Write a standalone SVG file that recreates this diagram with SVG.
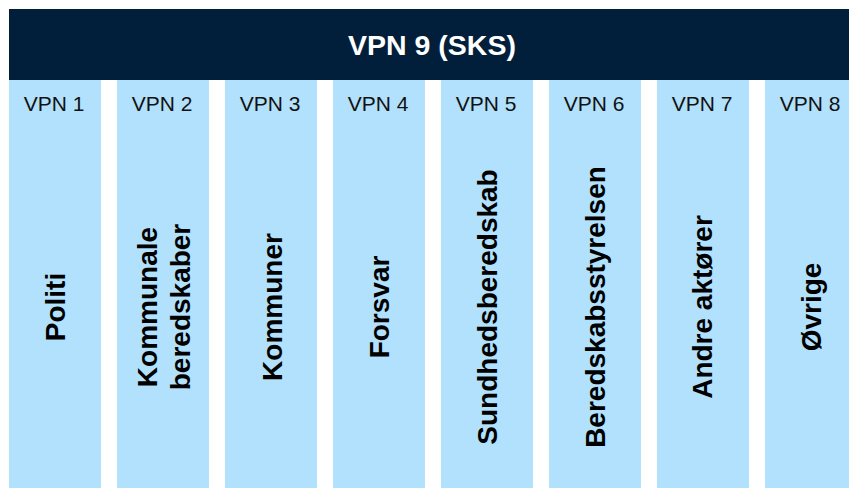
<svg xmlns="http://www.w3.org/2000/svg" width="849" height="488" viewBox="0 0 849 488">
<style>
.col{fill:#B1E1FD}
.hdr{fill:#011E3B}
.ht{font-family:"Liberation Sans",Arial,sans-serif;font-weight:bold;font-size:28.5px;fill:#FFFFFF;text-anchor:middle}
.vl{font-family:"Liberation Sans",Arial,sans-serif;font-size:21px;fill:#111111;text-anchor:middle}
.nl{font-family:"Liberation Sans",Arial,sans-serif;font-weight:bold;font-size:28px;fill:#000000;text-anchor:middle}
</style>
<rect width="849" height="488" fill="#FFFFFF"/>
<g id="vpn9">
<rect class="hdr" x="9" y="9" width="840" height="71"/>
<text class="ht" x="432" y="55">VPN 9 (SKS)</text>
</g>
<g id="vpn1">
<rect class="col" x="9" y="80" width="92" height="408"/>
<text class="vl" x="54" y="111">VPN 1</text>
<text class="nl" transform="translate(65,307) rotate(-90)">Politi</text>
</g>
<g id="vpn2">
<rect class="col" x="117" y="80" width="92" height="408"/>
<text class="vl" x="162" y="111">VPN 2</text>
<text class="nl" transform="translate(156.5,307) rotate(-90)">Kommunale</text>
<text class="nl" transform="translate(190,307) rotate(-90)">beredskaber</text>
</g>
<g id="vpn3">
<rect class="col" x="225" y="80" width="92" height="408"/>
<text class="vl" x="270" y="111">VPN 3</text>
<text class="nl" transform="translate(282,307) rotate(-90)">Kommuner</text>
</g>
<g id="vpn4">
<rect class="col" x="333" y="80" width="92" height="408"/>
<text class="vl" x="378" y="111">VPN 4</text>
<text class="nl" transform="translate(389,307) rotate(-90)">Forsvar</text>
</g>
<g id="vpn5">
<rect class="col" x="441" y="80" width="92" height="408"/>
<text class="vl" x="486" y="111">VPN 5</text>
<text class="nl" transform="translate(497,307) rotate(-90)">Sundhedsberedskab</text>
</g>
<g id="vpn6">
<rect class="col" x="549" y="80" width="92" height="408"/>
<text class="vl" x="594" y="111">VPN 6</text>
<text class="nl" transform="translate(605,307) rotate(-90)">Beredskabsstyrelsen</text>
</g>
<g id="vpn7">
<rect class="col" x="657" y="80" width="92" height="408"/>
<text class="vl" x="702" y="111">VPN 7</text>
<text class="nl" transform="translate(712,307) rotate(-90)">Andre aktører</text>
</g>
<g id="vpn8">
<rect class="col" x="765" y="80" width="92" height="408"/>
<text class="vl" x="810" y="111">VPN 8</text>
<text class="nl" transform="translate(821,307) rotate(-90)">Øvrige</text>
</g>
<g id="connectors"/>
</svg>
